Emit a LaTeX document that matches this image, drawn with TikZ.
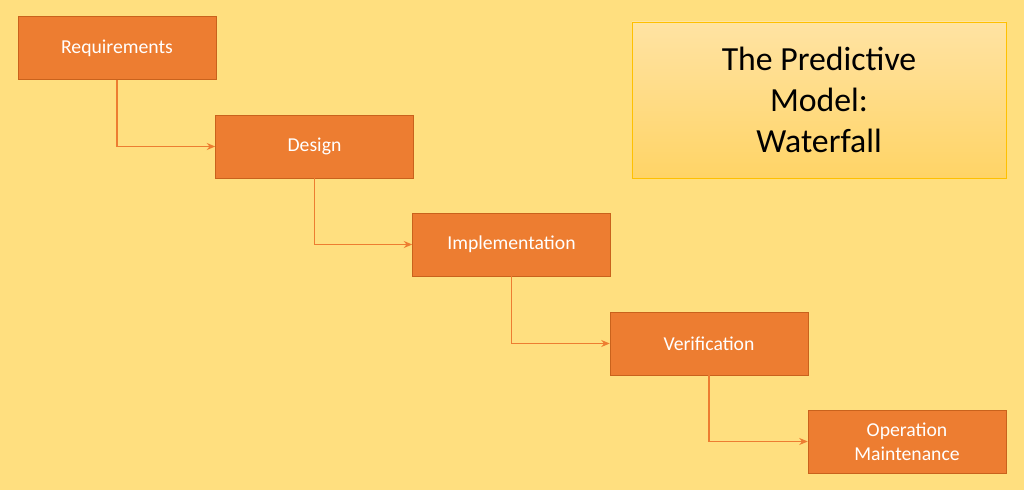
\documentclass[tikz,border=0pt]{standalone}
\usepackage{fontspec}
\setmainfont{Carlito}
\usetikzlibrary{positioning,arrows.meta}
\definecolor{bg}{HTML}{FFDF7F}
\definecolor{boxfill}{HTML}{ED7D31}
\definecolor{boxline}{HTML}{C9621C}
\definecolor{titletop}{HTML}{FFE3A3}
\definecolor{titlebot}{HTML}{FFD466}
\definecolor{titleline}{HTML}{FFC000}
\tikzset{
  phase/.style={rectangle,draw=boxline,fill=boxfill,text=white,minimum width=4.95cm,
    minimum height=1.57cm,inner sep=2pt,align=center,font=\fontsize{14}{17}\selectfont},
  flow/.style={draw=boxfill,thick,-{Stealth[length=6pt,width=5pt]}}
}
\begin{document}
\begin{tikzpicture}[x=0.025cm,y=-0.025cm]
  \fill[bg] (0,0) rectangle (1024,490);
  \useasboundingbox (0,0) rectangle (1024,490);
  \node[phase] (req) at (117,48) {Requirements};
  \node[phase] (des) at (314.5,146.5) {Design};
  \node[phase] (imp) at (511.5,244.5) {Implementation};
  \node[phase] (ver) at (709,343.5) {Verification};
  \node[phase] (ops) at (907,441.5) {Operation\\Maintenance};
  \node[rectangle,draw=titleline,top color=titletop,bottom color=titlebot,
    minimum width=9.35cm,minimum height=3.9cm,align=center,
    font=\fontsize{24}{29}\selectfont] (title) at (819,100) {The Predictive\\Model:\\Waterfall};
  \draw[flow] (req.south) |- (des.west);
  \draw[flow] (des.south) |- (imp.west);
  \draw[flow] (imp.south) |- (ver.west);
  \draw[flow] (ver.south) |- (ops.west);
\end{tikzpicture}
\end{document}
